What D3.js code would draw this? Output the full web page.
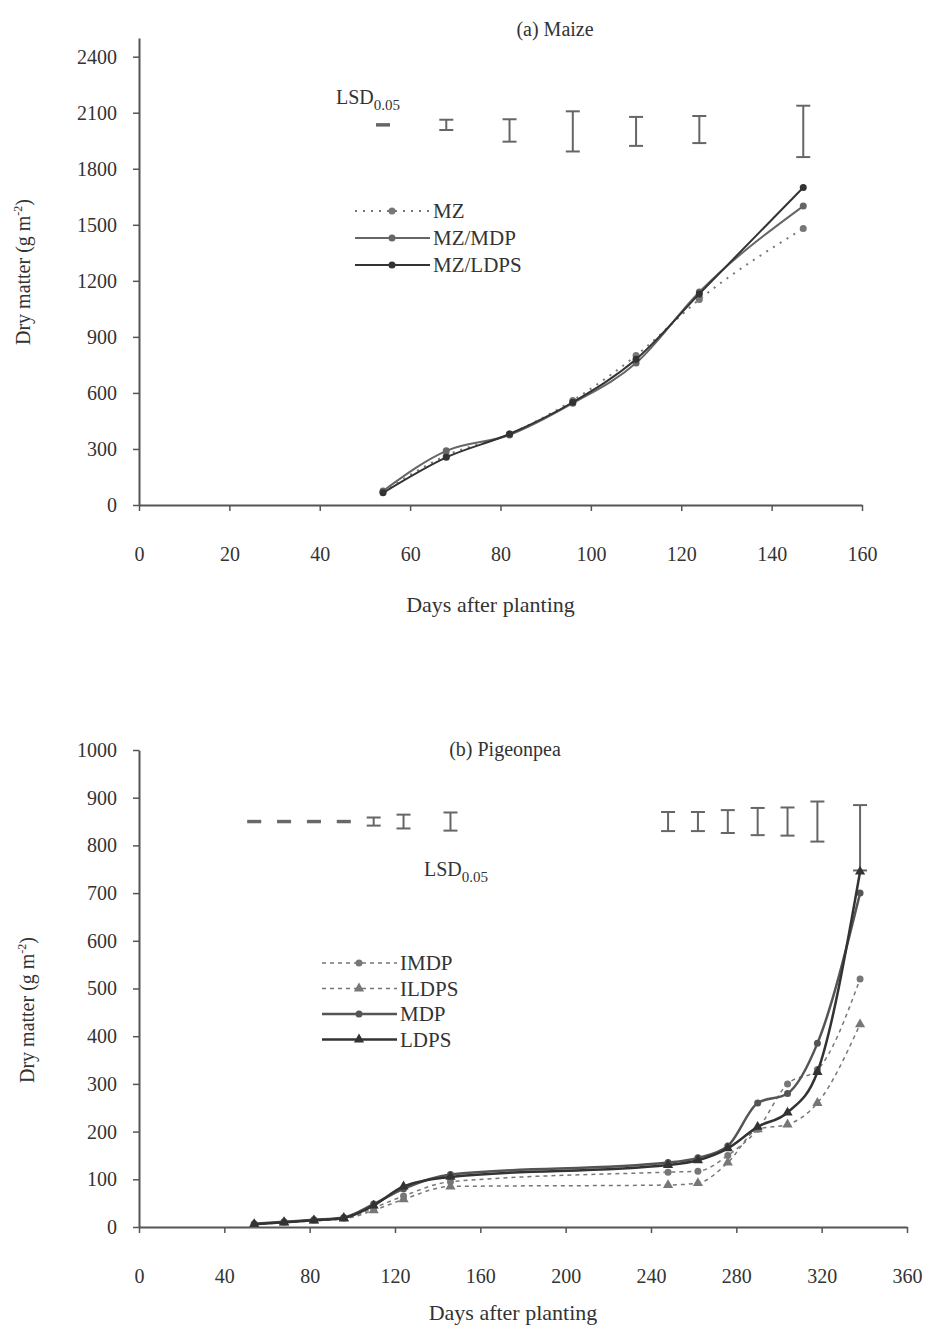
<!DOCTYPE html>
<html>
<head>
<meta charset="utf-8">
<script src="https://cdn.jsdelivr.net/npm/d3@7/dist/d3.min.js"></script>
<style>
body { margin: 0; background: #fff; }
svg text { font-family: "Liberation Serif", "Times New Roman", serif; fill: #333; }
</style>
</head>
<body>
<div id="chart"></div>
<script>
// (a) Maize
const maizeDays = [54, 68, 82, 96, 110, 124, 147];
const mzSole = [70, 265, 380, 560, 800, 1100, 1480];
const mzMdp = [75, 290, 375, 545, 760, 1140, 1600];
const mzLdps = [65, 255, 380, 550, 780, 1130, 1700];
const maizeLsd = [8, 55, 120, 215, 155, 145, 275];
const maizeLsdMid = [2035, 2035, 2005, 2000, 2000, 2010, 2000];
const maizeYTicks = [0, 300, 600, 900, 1200, 1500, 1800, 2100, 2400];
const maizeXTicks = [0, 20, 40, 60, 80, 100, 120, 140, 160];

// (b) Pigeonpea
const pigeonDays = [54, 68, 82, 96, 110, 124, 146, 248, 262, 276, 290, 304, 318, 338];
const imdp = [6, 10, 14, 18, 40, 65, 95, 115, 117, 150, 205, 300, 330, 520];
const ildps = [5, 9, 13, 17, 35, 58, 85, 88, 92, 135, 205, 215, 260, 425];
const mdp = [7, 11, 15, 20, 48, 80, 110, 135, 145, 170, 260, 280, 385, 700];
const ldps = [6, 10, 14, 19, 45, 85, 105, 130, 140, 165, 210, 240, 325, 745];
const pigeonLsd = [3, 3, 3, 3, 17, 29, 38, 40, 40, 48, 57, 59, 84, 137];
const pigeonLsdMid = [850, 850, 850, 850, 850, 850, 850, 850, 850, 850, 850, 850, 850, 816];
const pigeonYTicks = [0, 100, 200, 300, 400, 500, 600, 700, 800, 900, 1000];
const pigeonXTicks = [0, 40, 80, 120, 160, 200, 240, 280, 320, 360];

const svg = d3.select("#chart").append("svg")
	.attr("width", 930)
	.attr("height", 1328);

function triangle(g, x, y, s, fill) {
	g.append("path")
		.attr("d", d3.symbol().type(d3.symbolTriangle).size(s)())
		.attr("transform", `translate(${x},${y})`)
		.attr("fill", fill);
}

function drawPanel(p) {
	const x = d3.scaleLinear().domain(p.xDomain).range(p.xRange);
	const y = d3.scaleLinear().domain(p.yDomain).range(p.yRange);
	const g = svg.append("g");

	// axes
	const ax = g.append("g")
		.attr("transform", `translate(0,${p.yRange[0]})`)
		.call(d3.axisBottom(x).tickValues(p.xTicks).tickFormat(d3.format("d"))
			.tickSize(6).tickSizeOuter(0).tickPadding(p.xPad));
	const ay = g.append("g")
		.attr("transform", `translate(${p.xRange[0]},0)`)
		.call(d3.axisLeft(y).tickValues(p.yTicks).tickFormat(d3.format("d"))
			.tickSize(6).tickSizeOuter(0).tickPadding(16));
	[ax, ay].forEach(a => {
		a.select(".domain").attr("stroke", "#555").attr("stroke-width", 2);
		a.selectAll(".tick line").attr("stroke", "#555").attr("stroke-width", 1.5);
		a.selectAll(".tick text").attr("font-size", 20).attr("fill", "#333")
			.attr("font-family", "Liberation Serif");
	});

	// titles
	g.append("text").attr("x", p.titleX).attr("y", p.titleY)
		.attr("text-anchor", "middle").attr("font-size", 20).text(p.title);
	g.append("text").attr("x", (p.xRange[0] + p.xRange[1]) / 2 - 10).attr("y", p.xLabelY)
		.attr("text-anchor", "middle").attr("font-size", 22).text("Days after planting");
	const yl = g.append("text")
		.attr("transform", `translate(${p.yLabelX},${p.yLabelY}) rotate(-90)`)
		.attr("text-anchor", "middle").attr("font-size", 20);
	yl.append("tspan").text("Dry matter (g m");
	yl.append("tspan").attr("dy", -8).attr("font-size", 12).text("-2");
	yl.append("tspan").attr("dy", 8).text(")");

	// LSD bars
	const lsd = g.append("g").attr("stroke", "#666").attr("stroke-width", 2);
	p.lsd.forEach((v, i) => {
		const cx = x(p.lsdDays[i]);
		const y0 = y(p.lsdMid[i] - v / 2), y1 = y(p.lsdMid[i] + v / 2);
		lsd.append("line").attr("x1", cx).attr("x2", cx).attr("y1", y0).attr("y2", y1);
		[y0, y1].forEach(yy => lsd.append("line")
			.attr("x1", cx - 7).attr("x2", cx + 7).attr("y1", yy).attr("y2", yy));
	});
	const lt = g.append("text").attr("x", p.lsdTextX).attr("y", p.lsdTextY).attr("font-size", 20);
	lt.append("tspan").text("LSD");
	lt.append("tspan").attr("dy", 6).attr("font-size", 15).text("0.05");

	// series
	p.series.forEach(s => {
		const pts = p.days.map((d, i) => [x(d), y(s.values[i])]);
		g.append("path")
			.attr("d", d3.line().curve(d3.curveMonotoneX)(pts))
			.attr("fill", "none")
			.attr("stroke", s.color)
			.attr("stroke-width", s.width)
			.attr("stroke-dasharray", s.dash);
		pts.forEach(([px, py]) => {
			if (s.marker === "tri") triangle(g, px, py, 45, s.color);
			else g.append("circle").attr("cx", px).attr("cy", py).attr("r", 3.5).attr("fill", s.color);
		});
	});

	// legend
	p.series.forEach((s, i) => {
		const ly = p.legendY + i * p.legendStep;
		g.append("line")
			.attr("x1", p.legendX).attr("x2", p.legendX + 75)
			.attr("y1", ly).attr("y2", ly)
			.attr("stroke", s.color).attr("stroke-width", s.width)
			.attr("stroke-dasharray", s.dash);
		if (s.marker === "tri") triangle(g, p.legendX + 37, ly, 45, s.color);
		else g.append("circle").attr("cx", p.legendX + 37).attr("cy", ly).attr("r", 3.5).attr("fill", s.color);
		g.append("text").attr("x", p.legendX + 78).attr("y", ly + 7)
			.attr("font-size", 21).text(s.name);
	});
}

drawPanel({
	xDomain: [0, 160], xRange: [139, 862],
	yDomain: [0, 2500], yRange: [505, 38],
	xTicks: maizeXTicks, yTicks: maizeYTicks, xPad: 36,
	title: "(a) Maize", titleX: 555, titleY: 36,
	xLabelY: 612, yLabelX: 30, yLabelY: 272,
	days: maizeDays,
	lsd: maizeLsd, lsdMid: maizeLsdMid, lsdDays: maizeDays,
	lsdTextX: 336, lsdTextY: 104,
	legendX: 355, legendY: 211, legendStep: 27,
	series: [
		{ name: "MZ", values: mzSole, color: "#777", width: 2, dash: "2,6", marker: "dot" },
		{ name: "MZ/MDP", values: mzMdp, color: "#666", width: 2, dash: null, marker: "dot" },
		{ name: "MZ/LDPS", values: mzLdps, color: "#333", width: 2, dash: null, marker: "dot" }
	]
});

drawPanel({
	xDomain: [0, 360], xRange: [139, 907],
	yDomain: [0, 1000], yRange: [1227, 750],
	xTicks: pigeonXTicks, yTicks: pigeonYTicks, xPad: 36,
	title: "(b) Pigeonpea", titleX: 505, titleY: 756,
	xLabelY: 1320, yLabelX: 34, yLabelY: 1010,
	days: pigeonDays,
	lsd: pigeonLsd, lsdMid: pigeonLsdMid, lsdDays: pigeonDays,
	lsdTextX: 424, lsdTextY: 876,
	legendX: 322, legendY: 963, legendStep: 25.5,
	series: [
		{ name: "IMDP", values: imdp, color: "#777", width: 1.5, dash: "4,4", marker: "dot" },
		{ name: "ILDPS", values: ildps, color: "#777", width: 1.5, dash: "4,4", marker: "tri" },
		{ name: "MDP", values: mdp, color: "#555", width: 2.5, dash: null, marker: "dot" },
		{ name: "LDPS", values: ldps, color: "#333", width: 2.5, dash: null, marker: "tri" }
	]
});
</script>
</body>
</html>
